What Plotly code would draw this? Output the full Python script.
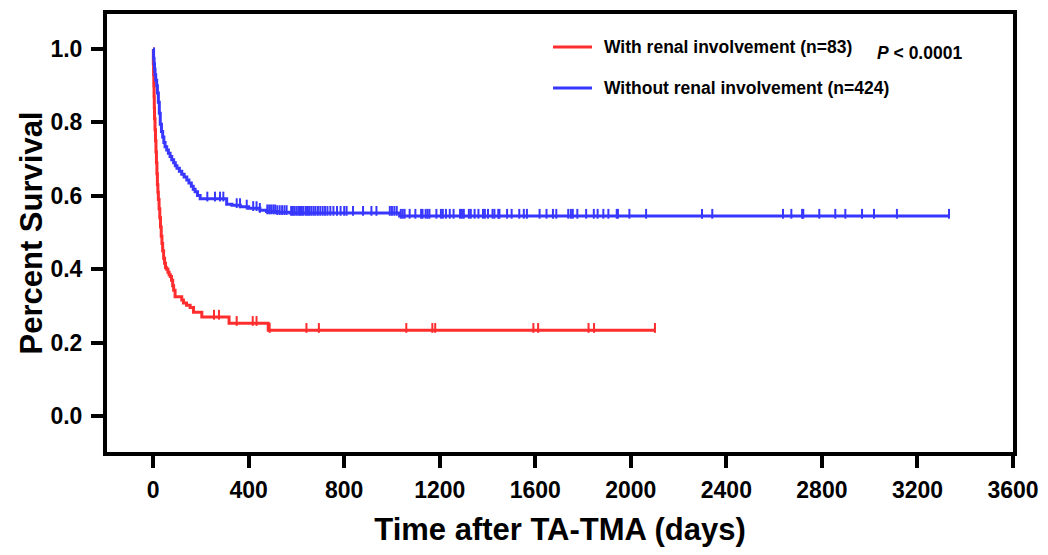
import numpy as np
import plotly.graph_objects as go

# ---- data ----
red_t = [0, 1, 2, 3, 4, 5, 6, 8, 10, 12, 14, 16, 18, 20, 22, 25, 28, 31, 34, 37, 40, 44, 48, 52,
         57, 62, 67, 72, 77, 82, 86, 92, 120, 127, 140, 155, 169, 204, 318, 482]
red_s = [1.0, 0.96, 0.93, 0.90, 0.87, 0.84, 0.81, 0.78, 0.75, 0.72, 0.69, 0.66, 0.63, 0.61, 0.59,
         0.565, 0.54, 0.515, 0.49, 0.47, 0.45, 0.43, 0.416, 0.404, 0.40, 0.392, 0.385, 0.38, 0.37,
         0.355, 0.343, 0.325, 0.316, 0.308, 0.302, 0.296, 0.283, 0.27, 0.253, 0.234]
red_end = 2101
red_cens = [255, 276, 350, 417, 433, 488, 642, 694, 1060, 1169, 1181, 1592, 1612, 1823, 1846, 2101]

blue_t = [0, 2, 4, 6, 8, 11, 15, 18, 22, 26, 30, 35, 40, 45, 50, 57, 64, 71, 78, 86, 93, 100, 110,
          120, 130, 141, 150, 160, 168, 176, 186, 197, 308, 330, 365, 400, 447, 475, 520, 573, 1032]
blue_s = [1.0, 0.975, 0.96, 0.945, 0.93, 0.915, 0.90, 0.88, 0.855, 0.825, 0.795, 0.775, 0.76, 0.745,
          0.734, 0.725, 0.716, 0.707, 0.698, 0.69, 0.682, 0.675, 0.667, 0.659, 0.651, 0.643, 0.635,
          0.626, 0.618, 0.611, 0.601, 0.592, 0.577, 0.574, 0.57, 0.566, 0.561, 0.557, 0.555, 0.553, 0.545]
blue_end = 3332
blue_cens = [227, 259, 280, 294, 350, 364, 392, 419, 433, 447, 478, 486, 494, 503, 511, 520, 530, 540,
             550, 559, 578, 585, 592, 600, 608, 615, 623, 630, 640, 648, 655, 663, 672, 680, 690, 700,
             710, 720, 730, 742, 755, 770, 785, 800, 810, 837, 879, 914, 935, 991, 1000, 1010, 1020,
             1037, 1045, 1053, 1074, 1098, 1122, 1128, 1141, 1149, 1157, 1186, 1205, 1213, 1226, 1242,
             1258, 1285, 1293, 1301, 1322, 1330, 1346, 1362, 1381, 1389, 1402, 1421, 1429, 1445, 1450,
             1482, 1501, 1533, 1552, 1565, 1618, 1647, 1674, 1688, 1738, 1749, 1757, 1776, 1813, 1845,
             1861, 1885, 1906, 1941, 1946, 1994, 2064, 2298, 2341, 2637, 2672, 2717, 2722, 2789, 2856,
             2898, 2968, 3018, 3114, 3332]

x_ticks = [0, 400, 800, 1200, 1600, 2000, 2400, 2800, 3200, 3600]
y_ticks = [0.0, 0.2, 0.4, 0.6, 0.8, 1.0]

RED = "rgb(255,45,45)"
BLUE = "rgb(55,55,255)"
FONT = "Liberation Sans, Arial, sans-serif"


def step_value(times, surv, at):
    idx = np.searchsorted(np.asarray(times), np.asarray(at), side="right") - 1
    return np.asarray(surv)[idx]


fig = go.Figure()
for t, s, end, cens, col, name in [
    (red_t, red_s, red_end, red_cens, RED, "With renal involvement (n=83)"),
    (blue_t, blue_s, blue_end, blue_cens, BLUE, "Without renal involvement (n=424)"),
]:
    fig.add_trace(go.Scatter(x=list(t) + [end], y=list(s) + [s[-1]], mode="lines",
                             line=dict(color=col, width=3, shape="hv"), name=name,
                             showlegend=False, hoverinfo="skip"))
    fig.add_trace(go.Scatter(x=cens, y=step_value(t, s, cens) + 0.006, mode="markers",
                             marker=dict(symbol="line-ns", size=7, line=dict(color=col, width=2)),
                             showlegend=False, hoverinfo="skip"))

axis_common = dict(showline=True, linecolor="black", linewidth=4, mirror=True, automargin=False,
                   ticks="outside", tickwidth=4, tickcolor="black", showgrid=False, zeroline=False,
                   tickfont=dict(family=FONT, size=23, color="black", weight="bold"))

fig.update_xaxes(range=[-193, 3600], tickvals=x_ticks, ticktext=[str(v) for v in x_ticks],
                 ticklen=12, ticklabelstandoff=2,
                 title=dict(text="<b>Time after TA-TMA (days)</b>", standoff=18,
                            font=dict(family=FONT, size=31, color="black")),
                 **axis_common)
fig.update_yaxes(range=[-0.098, 1.0954], tickvals=y_ticks, ticktext=[f"{v:.1f}" for v in y_ticks],
                 ticklen=12, ticklabelstandoff=4,
                 title=dict(text="<b>Percent Survival</b>", standoff=0,
                            font=dict(family=FONT, size=31, color="black")),
                 **axis_common)

# legend drawn manually
leg = [(0.9247, RED, "With renal involvement (n=83)"),
       (0.831, BLUE, "Without renal involvement (n=424)")]
for yy, col, txt in leg:
    fig.add_shape(type="line", xref="paper", yref="paper", x0=0.4923, x1=0.5353, y0=yy, y1=yy,
                  line=dict(color=col, width=3))
    fig.add_annotation(xref="paper", yref="paper", x=0.5464, y=yy, xanchor="left", yanchor="middle",
                       text=f"<b>{txt}</b>", showarrow=False,
                       font=dict(family=FONT, size=17.5, color="black"))
fig.add_annotation(xref="paper", yref="paper", x=0.8477, y=0.911, xanchor="left", yanchor="middle",
                   text="<b><i>P</i> &lt; 0.0001</b>", showarrow=False,
                   font=dict(family=FONT, size=17.5, color="black"))

fig.update_layout(width=1048, height=555, margin=dict(l=107, r=35, t=14, b=103),
                  paper_bgcolor="white", plot_bgcolor="white", showlegend=False)

fig.write_html("out.html")
